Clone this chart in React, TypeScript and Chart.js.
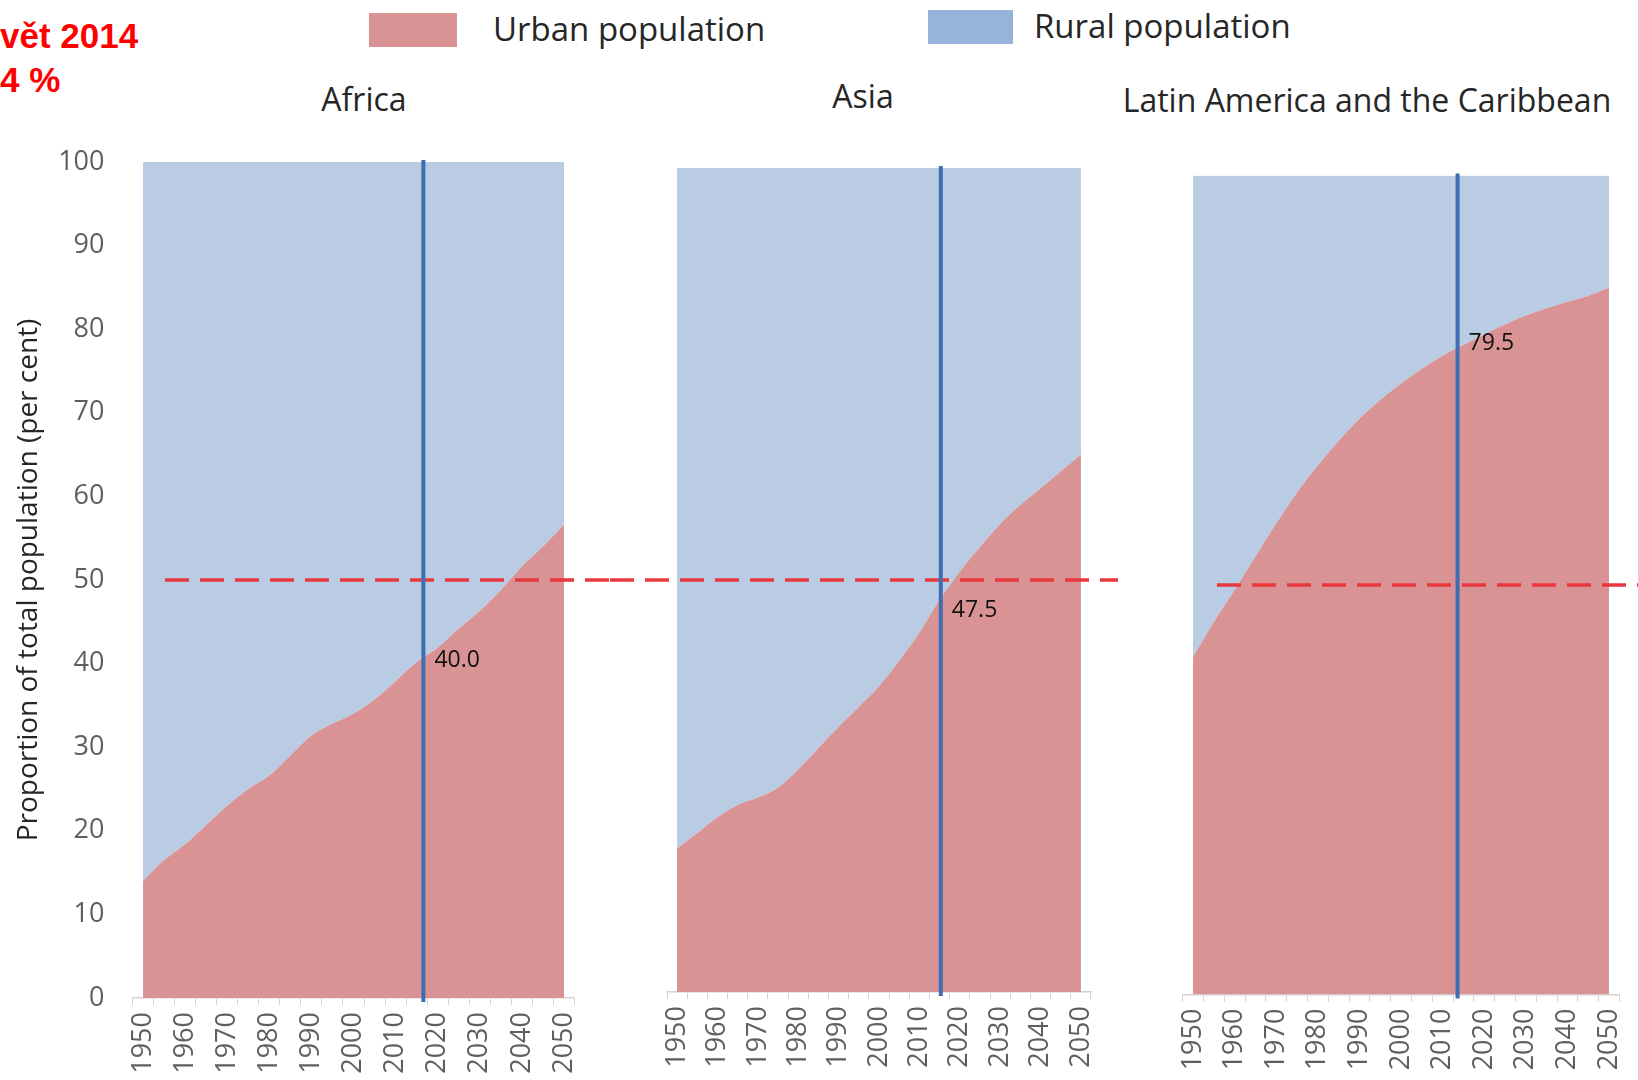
import React, { useEffect, useRef } from 'react';
import { Chart, registerables } from 'chart.js';

Chart.register(...registerables);

// ---------- data ----------
const years = ['1950', '1955', '1960', '1965', '1970', '1975', '1980', '1985', '1990', '1995', '2000',
  '2005', '2010', '2015', '2020', '2025', '2030', '2035', '2040', '2045', '2050'];

const africaUrban = [14.0, 16.5, 18.4, 20.7, 23.0, 25.0, 26.6, 29.0, 31.4, 32.8, 34.0,
  35.7, 37.9, 40.2, 41.9, 44.2, 46.3, 48.8, 51.6, 54.0, 56.6];
const asiaUrban = [17.4, 19.3, 21.2, 22.7, 23.6, 24.8, 27.0, 29.6, 32.2, 34.6, 37.1,
  40.2, 43.6, 47.6, 51.0, 54.0, 56.8, 59.1, 61.1, 63.2, 65.2];
const latinUrban = [41.2, 45.5, 49.4, 53.5, 57.5, 61.3, 64.6, 67.6, 70.3, 72.6, 74.6,
  76.4, 78.0, 79.3, 80.6, 81.8, 82.9, 83.8, 84.6, 85.3, 86.3];

const panelTitles = ['Africa', 'Asia', 'Latin America and the Caribbean'];
const markerLabels = ['40.0', '47.5', '79.5'];
const markerValues = [40.0, 47.5, 79.5];
const markerYears = [2016.6, 2015.3, 2013.6];
const thresholdValue = 50;
const legendLabels = ['Urban population', 'Rural population'];
const headlineLines = ['vět 2014', '4 %'];
const yAxisTitle = 'Proportion of total population (per cent)';

// ---------- styles ----------
const URBAN = '#d99394';
const RURAL = '#b9cce4';
const URBAN_SWATCH = '#d99394';
const RURAL_SWATCH = '#96b4da';
const TICK_COLOR = '#5f5f5f';
const AXIS_COLOR = '#d4d4d4';
const FONT = '"Open Sans", "DejaVu Sans", sans-serif';

const panelMarks = {
  id: 'panelMarks',
  afterDatasetsDraw(chart: any, _args: any, opts: any) {
    const { ctx, chartArea, scales } = chart;
    const x = scales.x;
    const y = scales.y;
    ctx.save();
    // dashed 50 % line
    const yT = y.getPixelForValue(opts.threshold);
    ctx.strokeStyle = '#e8383d';
    ctx.lineWidth = 3.5;
    ctx.setLineDash([24, 11]);
    ctx.beginPath();
    ctx.moveTo(opts.dashFrom, yT);
    ctx.lineTo(opts.dashTo, yT);
    ctx.stroke();
    // vertical marker line
    const idx = (opts.markerYear - Number(years[0])) / 5;
    const xm = x.getPixelForValue(idx);
    ctx.setLineDash([]);
    ctx.strokeStyle = '#3e6db3';
    ctx.lineWidth = 4;
    ctx.beginPath();
    ctx.moveTo(xm, chartArea.top - 2);
    ctx.lineTo(xm, chartArea.bottom + 4);
    ctx.stroke();
    // value label
    ctx.fillStyle = '#111111';
    ctx.font = '23px ' + FONT;
    ctx.textBaseline = 'middle';
    ctx.textAlign = 'left';
    ctx.fillText(opts.label, xm + 11, y.getPixelForValue(opts.markerValue) + opts.labelDy);
    ctx.restore();
  },
};

type PanelCfg = {
  urban: number[];
  left: number;
  width: number;
  padding: { left: number; right: number; top: number; bottom: number };
  xHeight: number;
  showY: boolean;
  dashFrom: number;
  dashTo: number;
  marker: number;
  labelDy: number;
};

const CANVAS_TOP = 110;
const CANVAS_H = 970;

function Panel({ cfg }: { cfg: PanelCfg }) {
  const ref = useRef<HTMLCanvasElement>(null);
  useEffect(() => {
    const rural = cfg.urban.map((u) => Math.round((100 - u) * 10) / 10);
    const chart = new Chart(ref.current as HTMLCanvasElement, {
      type: 'line',
      data: {
        labels: years,
        datasets: [
          {
            label: legendLabels[0],
            data: cfg.urban,
            backgroundColor: URBAN,
            borderWidth: 0,
            pointRadius: 0,
            fill: 'origin',
            cubicInterpolationMode: 'monotone',
          },
          {
            label: legendLabels[1],
            data: rural,
            backgroundColor: RURAL,
            borderWidth: 0,
            pointRadius: 0,
            fill: '-1',
            cubicInterpolationMode: 'monotone',
          },
        ],
      },
      options: {
        animation: false,
        responsive: false,
        maintainAspectRatio: false,
        layout: { padding: cfg.padding },
        plugins: {
          legend: { display: false },
          tooltip: { enabled: false },
          panelMarks: {
            threshold: thresholdValue,
            dashFrom: cfg.dashFrom,
            dashTo: cfg.dashTo,
            markerYear: markerYears[cfg.marker],
            markerValue: markerValues[cfg.marker],
            label: markerLabels[cfg.marker],
            labelDy: cfg.labelDy,
          },
        } as any,
        scales: {
          x: {
            type: 'category',
            offset: true,
            afterFit: (s: any) => {
              s.height = cfg.xHeight;
            },
            grid: {
              display: true,
              offset: true,
              drawOnChartArea: false,
              drawTicks: true,
              tickLength: 7,
              color: AXIS_COLOR,
            },
            border: { display: true, color: AXIS_COLOR, width: 1.5 },
            ticks: {
              autoSkip: false,
              minRotation: 90,
              maxRotation: 90,
              padding: 7,
              color: TICK_COLOR,
              font: { size: 27, family: FONT },
              callback: (_v: any, i: number) => (i % 2 === 0 ? years[i] : ''),
            },
          },
          y: {
            stacked: true,
            min: 0,
            max: 100,
            display: cfg.showY,
            afterFit: (s: any) => {
              s.width = cfg.showY ? 132.5 : 0;
            },
            grid: { display: false, drawTicks: false },
            border: { display: false },
            ticks: {
              stepSize: 10,
              padding: 28,
              color: TICK_COLOR,
              font: { size: 27, family: FONT },
            },
            title: {
              display: true,
              text: yAxisTitle,
              color: '#262626',
              font: { size: 28, family: FONT },
              padding: { top: 12, bottom: 0 },
            },
          },
        },
      },
      plugins: [panelMarks as any],
    });
    return () => chart.destroy();
  }, []);
  return (
    <canvas
      ref={ref}
      width={cfg.width}
      height={CANVAS_H}
      style={{ position: 'absolute', left: cfg.left, top: CANVAS_TOP, width: cfg.width, height: CANVAS_H }}
    />
  );
}

const panels: PanelCfg[] = [
  {
    urban: africaUrban,
    left: 0,
    width: 610,
    padding: { left: 0, right: 35.5, top: 52, bottom: 0 },
    xHeight: 82,
    showY: true,
    dashFrom: 165,
    dashTo: 610,
    marker: 0,
    labelDy: -3,
  },
  {
    urban: asiaUrban,
    left: 610,
    width: 530,
    padding: { left: 57, right: 49, top: 58, bottom: 0 },
    xHeight: 88,
    showY: false,
    dashFrom: 0,
    dashTo: 508,
    marker: 1,
    labelDy: 10,
  },
  {
    urban: latinUrban,
    left: 1140,
    width: 530,
    padding: { left: 42.6, right: 50.6, top: 65.5, bottom: 0 },
    xHeight: 85.4,
    showY: false,
    dashFrom: 77,
    dashTo: 530,
    marker: 2,
    labelDy: 0,
  },
];

const titleCenters = [
  { x: 364, y: 99 },
  { x: 863, y: 96 },
  { x: 1367, y: 100 },
];

export default function App() {
  const textBase: React.CSSProperties = { position: 'absolute', whiteSpace: 'nowrap', fontFamily: FONT, color: '#262626' };
  return (
    <div style={{ position: 'absolute', left: 0, top: 0, width: 1638, height: 1080, overflow: 'hidden', background: '#ffffff' }}>
      {headlineLines.map((t, i) => (
        <div
          key={t}
          style={{
            position: 'absolute',
            left: 0,
            top: i === 0 ? 18 : 62,
            fontFamily: '"Liberation Sans", Arial, sans-serif',
            fontWeight: 'bold',
            fontSize: 35,
            lineHeight: '35px',
            color: '#ff0000',
            whiteSpace: 'nowrap',
          }}
        >
          {t}
        </div>
      ))}
      {/* legend */}
      <div style={{ position: 'absolute', left: 369, top: 13, width: 88, height: 34, background: URBAN_SWATCH }} />
      <div style={{ ...textBase, left: 493, top: 29 - 23, fontSize: 33, lineHeight: '46px' }}>{legendLabels[0]}</div>
      <div style={{ position: 'absolute', left: 928, top: 10, width: 85, height: 34, background: RURAL_SWATCH }} />
      <div style={{ ...textBase, left: 1034, top: 26 - 23, fontSize: 33, lineHeight: '46px' }}>{legendLabels[1]}</div>
      {panelTitles.map((t, i) => (
        <div
          key={t}
          style={{
            ...textBase,
            left: titleCenters[i].x,
            top: titleCenters[i].y - 22,
            transform: 'translateX(-50%)',
            fontSize: 32,
            lineHeight: '44px',
          }}
        >
          {t}
        </div>
      ))}
      {panels.map((p, i) => (
        <Panel key={i} cfg={p} />
      ))}
    </div>
  );
}
